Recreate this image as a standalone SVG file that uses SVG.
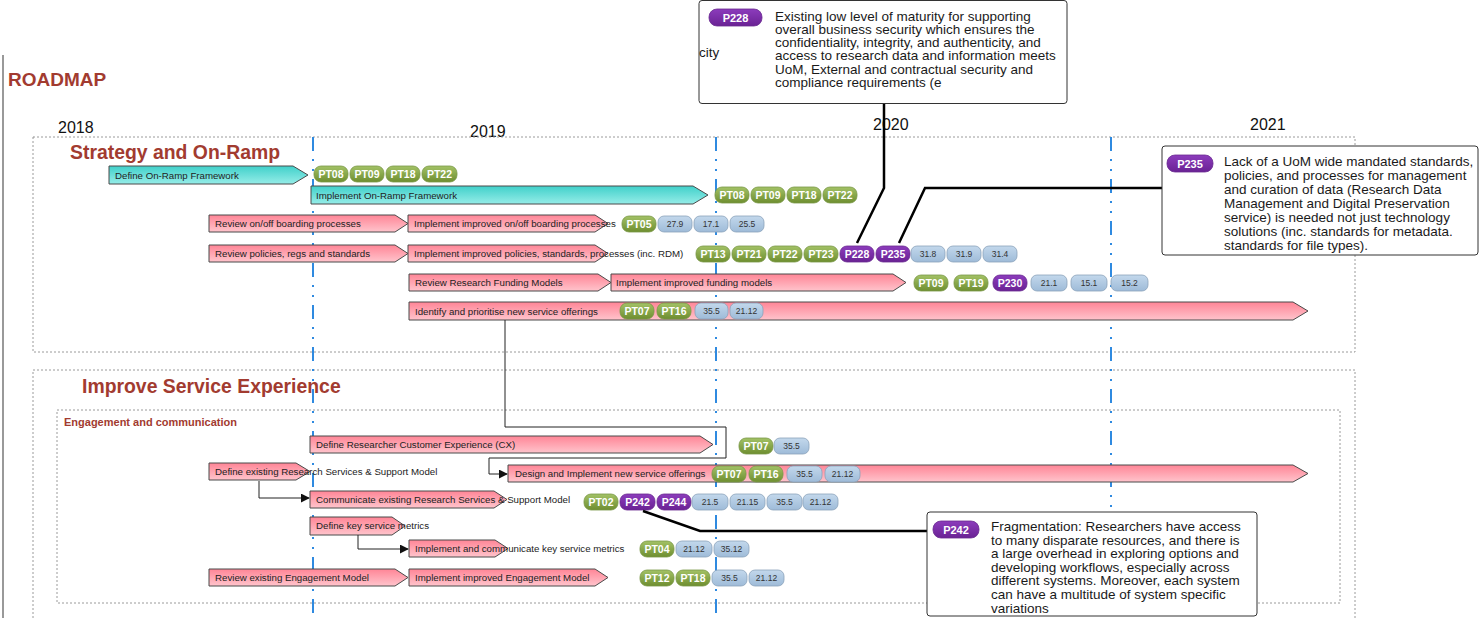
<svg xmlns="http://www.w3.org/2000/svg" width="1480" height="618" viewBox="0 0 1480 618">
<defs>
<linearGradient id="gP" x1="0" y1="0" x2="0" y2="1"><stop offset="0" stop-color="#ff8596"/><stop offset="1" stop-color="#ffc4cc"/></linearGradient>
<linearGradient id="gT" x1="0" y1="0" x2="0" y2="1"><stop offset="0" stop-color="#40d0ca"/><stop offset="1" stop-color="#96ede8"/></linearGradient>
<linearGradient id="gG" x1="0" y1="0" x2="0" y2="1"><stop offset="0" stop-color="#a3c266"/><stop offset="1" stop-color="#6e8e30"/></linearGradient>
<linearGradient id="gB" x1="0" y1="0" x2="0" y2="1"><stop offset="0" stop-color="#c3d8ec"/><stop offset="1" stop-color="#9ebbd8"/></linearGradient>
<linearGradient id="gV" x1="0" y1="0" x2="0" y2="1"><stop offset="0" stop-color="#8c3cbc"/><stop offset="1" stop-color="#6a2294"/></linearGradient>
<marker id="arr" viewBox="0 0 10 10" refX="9" refY="5" markerWidth="9" markerHeight="9" markerUnits="userSpaceOnUse" orient="auto"><path d="M0,0 L10,5 L0,10 Z" fill="#111"/></marker>
</defs>
<style>
text{font-family:'Liberation Sans',Arial,sans-serif}
.sec{fill:none;stroke:#9a9a9a;stroke-width:1;stroke-dasharray:2 2}
.yr{font-size:16px;fill:#111}
.ttl{font-size:19.4px;font-weight:bold;fill:#a23b30}
.vl{stroke:#2f8ae0;stroke-width:2;stroke-dasharray:14 8 2 8 2 8}
.bt{fill:url(#gT);stroke:#4a4a4a;stroke-width:1}
.bp{fill:url(#gP);stroke:#4a4a4a;stroke-width:1}
.lbl{font-size:9.7px;fill:#222}
.g rect{fill:url(#gG);stroke:#7a9848;stroke-width:0.8}
.b rect{fill:url(#gB);stroke:#8aa2ba;stroke-width:0.8}
.v rect{fill:url(#gV);stroke:#6a2a90;stroke-width:0.8}
.g text,.v text{font-size:10.5px;font-weight:bold;fill:#fff;text-anchor:middle}
.b text{font-size:8.5px;fill:#333;text-anchor:middle}
.cn{fill:none;stroke:#222;stroke-width:1}
.cl{fill:none;stroke:#000;stroke-width:2.5}
.box{fill:#fff;stroke:#333;stroke-width:1}
.ct{font-size:13.5px;fill:#1a1a1a}
</style>
<rect width="1480" height="618" fill="#fff"/>
<line x1="3" y1="55" x2="3" y2="618" stroke="#777" stroke-width="1.5"/>
<text x="8" y="86" font-size="19" font-weight="bold" fill="#a23b30">ROADMAP</text>
<text class="yr" x="58" y="133">2018</text>
<text class="yr" x="470" y="137">2019</text>
<text class="yr" x="873" y="130">2020</text>
<text class="yr" x="1250" y="130">2021</text>
<rect class="sec" x="33" y="137" width="1322" height="215"/>
<rect class="sec" x="33" y="370" width="1322" height="260"/>
<rect class="sec" x="57" y="410" width="1283" height="193"/>
<text class="ttl" x="70" y="159">Strategy and On-Ramp</text>
<text class="ttl" x="82" y="393">Improve Service Experience</text>
<text x="64" y="426" font-size="11" font-weight="bold" fill="#a23b30">Engagement and communication</text>
<line class="vl" x1="313" y1="137" x2="313" y2="618"/>
<line class="vl" x1="716" y1="137" x2="716" y2="618"/>
<line class="vl" x1="1111" y1="137" x2="1111" y2="618"/>

<g id="bar-define-onramp"><path class="bt" d="M109,166H293L308,175L293,184H109Z"/><text class="lbl" x="115" y="178.5">Define On-Ramp Framework</text></g>
<g id="bar-implement-onramp"><path class="bt" d="M311,186H693L708,195L693,204H311Z"/><text class="lbl" x="316" y="198.5">Implement On-Ramp Framework</text></g>
<g id="bar-review-onoff"><path class="bp" d="M209,215H395L408,223.5L395,232H209Z"/><text class="lbl" x="215" y="227">Review on/off boarding processes</text></g>
<g id="bar-impl-onoff"><path class="bp" d="M408,215H595L608,223.5L595,232H408Z"/><text class="lbl" x="414" y="227">Implement improved on/off boarding processes</text></g>
<g id="bar-review-policies"><path class="bp" d="M209,245H395L408,253.5L395,262H209Z"/><text class="lbl" x="215" y="257">Review policies, regs and standards</text></g>
<g id="bar-impl-policies"><path class="bp" d="M408,245H595L608,253.5L595,262H408Z"/><text class="lbl" x="414" y="257">Implement improved policies, standards, processes (inc. RDM)</text></g>
<g id="bar-review-funding"><path class="bp" d="M409,274H598L611,282.5L598,291H409Z"/><text class="lbl" x="415" y="286">Review Research Funding Models</text></g>
<g id="bar-impl-funding"><path class="bp" d="M611,274H893L906,282.5L893,291H611Z"/><text class="lbl" x="616" y="286">Implement improved funding models</text></g>
<g id="bar-identify"><path class="bp" d="M409,302H1293L1308,311L1293,320H409Z"/><text class="lbl" x="415" y="314.5">Identify and prioritise new service offerings</text></g>
<g id="bar-define-cx"><path class="bp" d="M310,436H700L713,444.5L700,453H310Z"/><text class="lbl" x="316" y="448">Define Researcher Customer Experience (CX)</text></g>
<g id="bar-define-existing"><path class="bp" d="M209,463H296L310,471.5L296,480H209Z"/><text class="lbl" x="215" y="475">Define existing Research Services &amp; Support Model</text></g>
<g id="bar-design-impl"><path class="bp" d="M508,465H1293L1308,473.5L1293,482H508Z"/><text class="lbl" x="515" y="477">Design and Implement new service offerings</text></g>
<g id="bar-communicate"><path class="bp" d="M310,491H494L507,499.5L494,508H310Z"/><text class="lbl" x="316" y="503">Communicate existing Research Services &amp; Support Model</text></g>
<g id="bar-define-metrics"><path class="bp" d="M310,517H392L405,526L392,535H310Z"/><text class="lbl" x="316" y="529">Define key service metrics</text></g>
<g id="bar-impl-metrics"><path class="bp" d="M409,540H495L508,548.5L495,557H409Z"/><text class="lbl" x="415" y="552">Implement and communicate key service metrics</text></g>
<g id="bar-review-engagement"><path class="bp" d="M209,569H395L408,577.5L395,586H209Z"/><text class="lbl" x="215" y="581">Review existing Engagement Model</text></g>
<g id="bar-impl-engagement"><path class="bp" d="M409,569H595L608,577.5L595,586H409Z"/><text class="lbl" x="415" y="581">Implement improved Engagement Model</text></g>

<g id="pills-row1">
<g class="g"><rect x="314" y="166" width="34" height="16" rx="7"/><text x="331" y="178">PT08</text></g>
<g class="g"><rect x="350" y="166" width="34" height="16" rx="7"/><text x="367" y="178">PT09</text></g>
<g class="g"><rect x="386" y="166" width="34" height="16" rx="7"/><text x="403" y="178">PT18</text></g>
<g class="g"><rect x="422" y="166" width="35" height="16" rx="7"/><text x="439.5" y="178">PT22</text></g>
</g>
<g id="pills-row2">
<g class="g"><rect x="715" y="187" width="34" height="16" rx="7"/><text x="732" y="199">PT08</text></g>
<g class="g"><rect x="751" y="187" width="34" height="16" rx="7"/><text x="768" y="199">PT09</text></g>
<g class="g"><rect x="787" y="187" width="34" height="16" rx="7"/><text x="804" y="199">PT18</text></g>
<g class="g"><rect x="823" y="187" width="34" height="16" rx="7"/><text x="840" y="199">PT22</text></g>
</g>
<g id="pills-row3">
<g class="g"><rect x="622" y="216" width="34" height="16" rx="7"/><text x="639" y="228">PT05</text></g>
<g class="b"><rect x="658" y="216" width="34" height="16" rx="6"/><text x="675" y="227">27.9</text></g>
<g class="b"><rect x="694" y="216" width="34" height="16" rx="6"/><text x="711" y="227">17.1</text></g>
<g class="b"><rect x="730" y="216" width="34" height="16" rx="6"/><text x="747" y="227">25.5</text></g>
</g>
<g id="pills-row4">
<g class="g"><rect x="696" y="246" width="34" height="16" rx="7"/><text x="713" y="258">PT13</text></g>
<g class="g"><rect x="732" y="246" width="34" height="16" rx="7"/><text x="749" y="258">PT21</text></g>
<g class="g"><rect x="768" y="246" width="34" height="16" rx="7"/><text x="785" y="258">PT22</text></g>
<g class="g"><rect x="804" y="246" width="34" height="16" rx="7"/><text x="821" y="258">PT23</text></g>
<g class="v"><rect x="840" y="246" width="34" height="16" rx="7"/><text x="857" y="258">P228</text></g>
<g class="v"><rect x="876" y="246" width="34" height="16" rx="7"/><text x="893" y="258">P235</text></g>
<g class="b"><rect x="911" y="246" width="34" height="16" rx="6"/><text x="928" y="257">31.8</text></g>
<g class="b"><rect x="947" y="246" width="34" height="16" rx="6"/><text x="964" y="257">31.9</text></g>
<g class="b"><rect x="983" y="246" width="34" height="16" rx="6"/><text x="1000" y="257">31.4</text></g>
</g>
<g id="pills-row5">
<g class="g"><rect x="914" y="275" width="34" height="16" rx="7"/><text x="931" y="287">PT09</text></g>
<g class="g"><rect x="954" y="275" width="34" height="16" rx="7"/><text x="971" y="287">PT19</text></g>
<g class="v"><rect x="993" y="275" width="34" height="16" rx="7"/><text x="1010" y="287">P230</text></g>
<g class="b"><rect x="1031" y="275" width="36" height="16" rx="6"/><text x="1049" y="286">21.1</text></g>
<g class="b"><rect x="1071" y="275" width="36" height="16" rx="6"/><text x="1089" y="286">15.1</text></g>
<g class="b"><rect x="1111" y="275" width="37" height="16" rx="6"/><text x="1129.5" y="286">15.2</text></g>
</g>
<g id="pills-row6">
<g class="g"><rect x="620" y="303" width="34" height="16" rx="7"/><text x="637" y="315">PT07</text></g>
<g class="g"><rect x="657" y="303" width="34" height="16" rx="7"/><text x="674" y="315">PT16</text></g>
<g class="b"><rect x="695" y="303" width="33" height="16" rx="6"/><text x="711.5" y="314">35.5</text></g>
<g class="b"><rect x="730" y="303" width="33" height="16" rx="6"/><text x="746.5" y="314">21.12</text></g>
</g>
<g id="pills-rowA">
<g class="g"><rect x="739" y="438" width="34" height="16" rx="7"/><text x="756" y="450">PT07</text></g>
<g class="b"><rect x="774" y="438" width="35" height="16" rx="6"/><text x="791.5" y="449">35.5</text></g>
</g>
<g id="pills-rowB">
<g class="g"><rect x="712" y="466" width="34" height="16" rx="7"/><text x="729" y="478">PT07</text></g>
<g class="g"><rect x="749" y="466" width="34" height="16" rx="7"/><text x="766" y="478">PT16</text></g>
<g class="b"><rect x="787" y="466" width="35" height="16" rx="6"/><text x="804.5" y="477">35.5</text></g>
<g class="b"><rect x="825" y="466" width="35" height="16" rx="6"/><text x="842.5" y="477">21.12</text></g>
</g>
<g id="pills-rowC">
<g class="g"><rect x="584" y="494" width="34" height="16" rx="7"/><text x="601" y="506">PT02</text></g>
<g class="v"><rect x="620" y="494" width="35" height="16" rx="7"/><text x="637.5" y="506">P242</text></g>
<g class="v"><rect x="657" y="494" width="34" height="16" rx="7"/><text x="674" y="506">P244</text></g>
<g class="b"><rect x="692" y="494" width="36" height="16" rx="6"/><text x="710" y="505">21.5</text></g>
<g class="b"><rect x="730" y="494" width="35" height="16" rx="6"/><text x="747.5" y="505">21.15</text></g>
<g class="b"><rect x="767" y="494" width="35" height="16" rx="6"/><text x="784.5" y="505">35.5</text></g>
<g class="b"><rect x="803" y="494" width="35" height="16" rx="6"/><text x="820.5" y="505">21.12</text></g>
</g>
<g id="pills-rowE">
<g class="g"><rect x="640" y="541" width="34" height="16" rx="7"/><text x="657" y="553">PT04</text></g>
<g class="b"><rect x="676" y="541" width="36" height="16" rx="6"/><text x="694" y="552">21.12</text></g>
<g class="b"><rect x="714" y="541" width="35" height="16" rx="6"/><text x="731.5" y="552">35.12</text></g>
</g>
<g id="pills-rowF">
<g class="g"><rect x="640" y="570" width="34" height="16" rx="7"/><text x="657" y="582">PT12</text></g>
<g class="g"><rect x="676" y="570" width="34" height="16" rx="7"/><text x="693" y="582">PT18</text></g>
<g class="b"><rect x="712" y="570" width="35" height="16" rx="6"/><text x="729.5" y="581">35.5</text></g>
<g class="b"><rect x="749" y="570" width="35" height="16" rx="6"/><text x="766.5" y="581">21.12</text></g>
</g>

<g id="connectors">
<path class="cn" d="M505,320V427H726V458H489V474H507" marker-end="url(#arr)"/>
<path class="cn" d="M259,481V498H309" marker-end="url(#arr)"/>
<path class="cn" d="M358,535V549H408" marker-end="url(#arr)"/>
<path class="cl" d="M884,104V188L857,243"/>
<path class="cl" d="M899,243L925,188H1162"/>
<path class="cl" d="M643,511L700,531H927"/>
</g>

<g id="callout-p228">
<rect class="box" x="699" y="0.5" width="368" height="103" rx="3"/>
<g class="v"><rect x="709" y="9" width="53" height="17" rx="8"/><text x="735.5" y="21.5" style="font-size:11px">P228</text></g>
<text class="ct" x="699" y="57">city</text>
<text class="ct" x="775" y="20.5">Existing low level of maturity for supporting</text>
<text class="ct" x="775" y="33.8">overall business security which ensures the</text>
<text class="ct" x="775" y="47.1">confidentiality, integrity, and authenticity, and</text>
<text class="ct" x="775" y="60.4">access to research data and information meets</text>
<text class="ct" x="775" y="73.7">UoM, External and contractual security and</text>
<text class="ct" x="775" y="87">compliance requirements (e</text>
</g>
<g id="callout-p235">
<rect class="box" x="1162" y="146" width="316" height="109" rx="3"/>
<g class="v"><rect x="1167" y="155" width="46" height="17" rx="8"/><text x="1190" y="167.5" style="font-size:11px">P235</text></g>
<text class="ct" x="1224" y="166">Lack of a UoM wide mandated standards,</text>
<text class="ct" x="1224" y="180">policies, and processes for management</text>
<text class="ct" x="1224" y="194">and curation of data (Research Data</text>
<text class="ct" x="1224" y="208">Management and Digital Preservation</text>
<text class="ct" x="1224" y="222">service) is needed not just technology</text>
<text class="ct" x="1224" y="236">solutions (inc. standards for metadata.</text>
<text class="ct" x="1224" y="250">standards for file types).</text>
</g>
<g id="callout-p242">
<rect class="box" x="927" y="512" width="330" height="104" rx="3"/>
<g class="v"><rect x="933" y="521" width="46" height="17" rx="8"/><text x="956" y="533.5" style="font-size:11px">P242</text></g>
<text class="ct" x="991" y="531">Fragmentation: Researchers have access</text>
<text class="ct" x="991" y="544.6">to many disparate resources, and there is</text>
<text class="ct" x="991" y="558.2">a large overhead in exploring options and</text>
<text class="ct" x="991" y="571.8">developing workflows, especially across</text>
<text class="ct" x="991" y="585.4">different systems. Moreover, each system</text>
<text class="ct" x="991" y="599">can have a multitude of system specific</text>
<text class="ct" x="991" y="612.6">variations</text>
</g>
</svg>
